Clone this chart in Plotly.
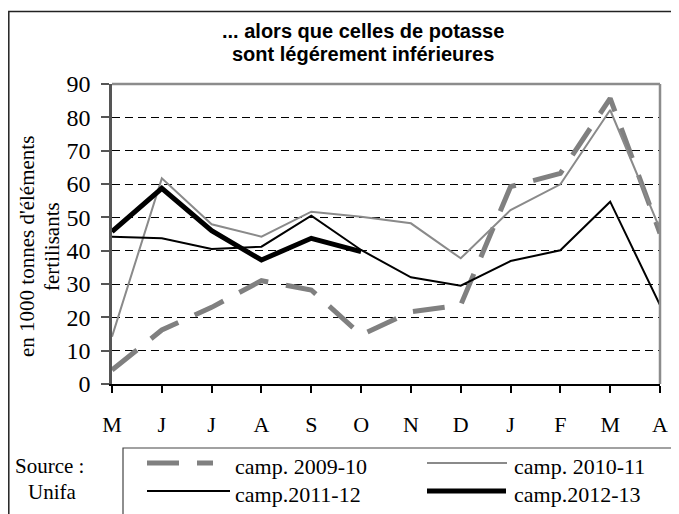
import plotly.graph_objects as go

months = ["M", "J", "J", "A", "S", "O", "N", "D", "J", "F", "M", "A"]
y_ticks = [0, 10, 20, 30, 40, 50, 60, 70, 80, 90]

s_2009_10 = [4.2, 16.2, 23.0, 31.0, 28.2, 14.7, 21.7, 23.7, 59.2, 63.2, 85.7, 45.2]
s_2010_11 = [14.2, 61.7, 47.9, 44.2, 51.7, 50.2, 48.2, 37.7, 52.2, 59.9, 82.2, 46.5]
s_2011_12 = [44.2, 43.7, 40.5, 41.2, 50.5, 40.2, 32.0, 29.5, 36.9, 40.1, 54.7, 23.7]
s_2012_13 = [45.7, 58.7, 46.0, 37.2, 43.7, 39.7, None, None, None, None, None, None]

names = ["camp. 2009-10", "camp. 2010-11", "camp.2011-12", "camp.2012-13"]
series = [s_2009_10, s_2010_11, s_2011_12, s_2012_13]
colors = ["#808080", "#8a8a8a", "#000000", "#000000"]
widths = [5, 2, 2, 5]
dashes = ["32px,18px", "solid", "solid", "solid"]

title_lines = ["... alors que celles de potasse", "sont légérement inférieures"]
ytitle_lines = ["en 1000 tonnes d'éléments", "fertilisants"]
source_lines = ["Source :", "Unifa"]

# the page body has an 8px margin: the figure is placed at (8, 8)
OFF = 8
W, H = 679 - OFF, 514 - OFF
# plot area in page pixels
L, R, T, B = 112, 660, 84, 384

def px(x):
    return (x - L) / (R - L)

def py(y):
    return (B - y) / (B - T)

SERIF = "Liberation Serif, Times New Roman, serif"
SANS = "Liberation Sans, Arial, sans-serif"

xs = list(range(len(months)))
fig = go.Figure()
for vals, nm, c, w, d in zip(series, names, colors, widths, dashes):
    fig.add_trace(go.Scatter(x=xs, y=vals, name=nm, mode="lines",
                             line=dict(color=c, width=w, dash=d),
                             connectgaps=False, showlegend=False))

shapes = []
# top and right plot border (gray)
shapes.append(dict(type="line", xref="paper", yref="paper", x0=0, x1=1, y0=1, y1=1,
                   line=dict(color="#8c8c8c", width=2.5)))
shapes.append(dict(type="line", xref="paper", yref="paper", x0=1, x1=1, y0=0, y1=1,
                   line=dict(color="#8c8c8c", width=2.5)))
# outer chart border
shapes.append(dict(type="rect", xref="paper", yref="paper", x0=px(OFF + 0.8), x1=px(700),
                   y0=py(540), y1=py(11.5), line=dict(color="#222222", width=1.5)))
# legend box
shapes.append(dict(type="rect", xref="paper", yref="paper", x0=px(123), x1=px(700),
                   y0=py(540), y1=py(448), line=dict(color="#444444", width=1.2)))

# legend entries: (line x0, line x1, line y, text x, text y)
leg_pos = [(147, 213, 463, 233, 466), (427, 507, 463, 512, 466),
           (147, 230, 491, 233, 494), (427, 506, 491, 512, 494)]
annotations = []
for (x0, x1, yy, tx, ty), nm, c, w, d in zip(leg_pos, names, colors, widths, dashes):
    shapes.append(dict(type="line", xref="paper", yref="paper", x0=px(x0), x1=px(x1),
                       y0=py(yy), y1=py(yy), line=dict(color=c, width=w, dash=d)))
    annotations.append(dict(text=nm, xref="paper", yref="paper", x=px(tx), y=py(ty),
                            xanchor="left", yanchor="middle", showarrow=False,
                            font=dict(family=SERIF, size=22, color="#000")))

# source
for txt, sx, sy in zip(source_lines, [13, 26], [466, 492]):
    annotations.append(dict(text=txt, xref="paper", yref="paper", x=px(sx), y=py(sy),
                            xanchor="left", yanchor="middle", showarrow=False,
                            font=dict(family=SERIF, size=21, color="#000")))
# y title (two rotated lines)
for txt, tx in zip(ytitle_lines, [27, 52]):
    annotations.append(dict(text=txt, xref="paper", yref="paper",
                            x=px(tx), y=py(247), xanchor="center", yanchor="middle",
                            textangle=-90, showarrow=False,
                            font=dict(family=SERIF, size=21, color="#000")))
# title (two lines)
for txt, ty in zip(title_lines, [31, 54]):
    annotations.append(dict(text=txt, xref="paper", yref="paper",
                            x=px(363), y=py(ty), xanchor="center", yanchor="middle",
                            showarrow=False,
                            font=dict(family=SANS, size=20, color="#000", weight="bold")))

fig.update_layout(
    width=W, height=H,
    margin=dict(l=L - OFF, r=W + OFF - R, t=T - OFF, b=H + OFF - B, pad=0),
    paper_bgcolor="white", plot_bgcolor="white",
    xaxis=dict(range=[0, len(months) - 1], tickmode="array", tickvals=xs, ticktext=months,
               showline=True, linecolor="#000", linewidth=1.5, showgrid=False, zeroline=False,
               ticks="outside", ticklen=7, tickcolor="#000", tickwidth=1.5,
               ticklabelstandoff=13,
               tickfont=dict(family=SERIF, size=22, color="#000")),
    yaxis=dict(range=[0, 90], tickmode="array", tickvals=y_ticks,
               showline=True, linecolor="#555555", linewidth=2.5, zeroline=False,
               showgrid=True, gridcolor="#000", gridwidth=1, griddash="8px,5px",
               ticks="outside", ticklen=8, tickcolor="#555555", tickwidth=1.5,
               ticklabelstandoff=6,
               tickfont=dict(family=SERIF, size=24, color="#000")),
    shapes=shapes, annotations=annotations,
)

fig.write_html("out.html")
